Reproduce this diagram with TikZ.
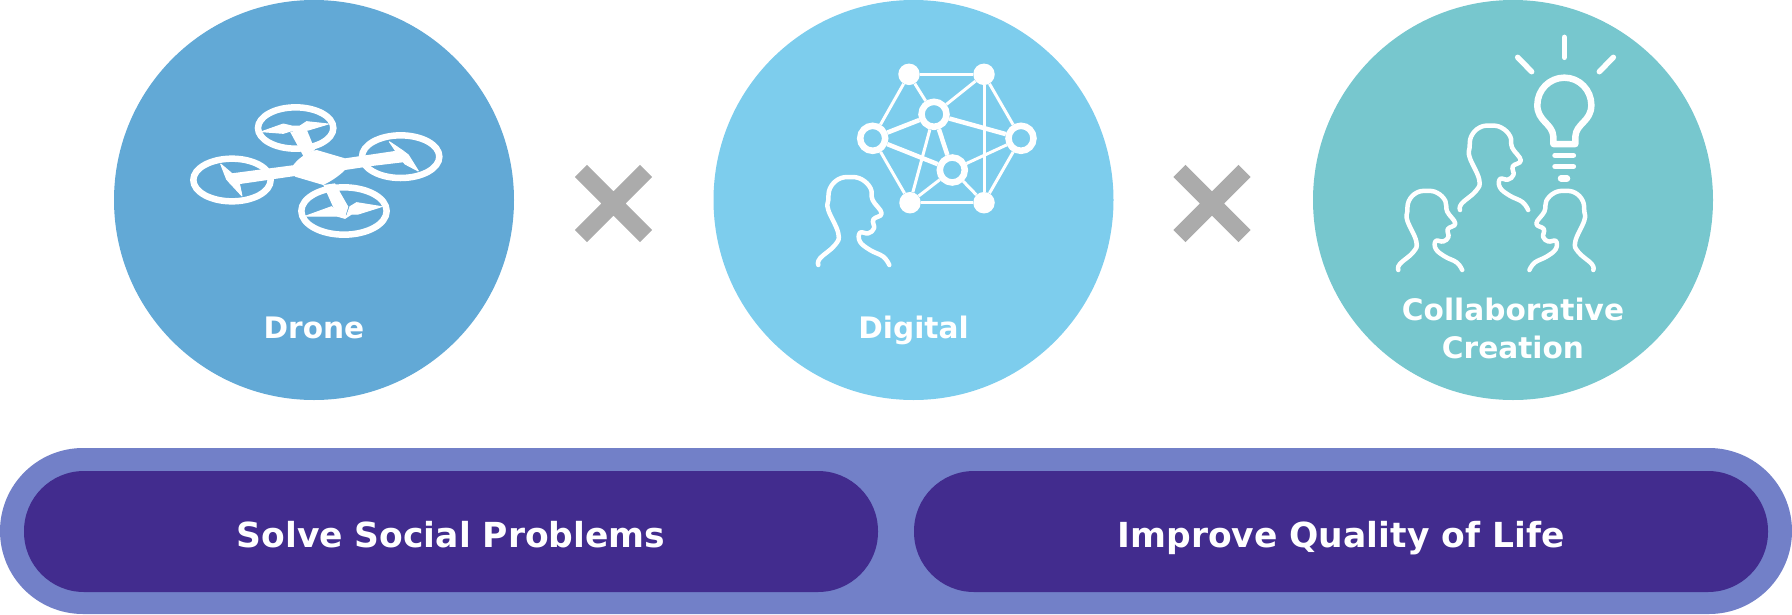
\documentclass[tikz,border=0pt]{standalone}
\usepackage{fontspec}
\setmainfont{DejaVu Sans}
\usepackage{xcolor}
\usetikzlibrary{calc}
\definecolor{dronecol}{RGB}{98,169,214}
\definecolor{digitalcol}{RGB}{125,205,237}
\definecolor{collabcol}{RGB}{119,199,206}
\definecolor{crosscol}{RGB}{171,171,171}
\definecolor{barouter}{RGB}{114,128,200}
\definecolor{barinner}{RGB}{66,44,142}
\tikzset{
    person/.pic={
        \draw[white, line width=4.5pt, line cap=round, line join=round] plot[smooth, tension=0.7] coordinates {
            (0,0) (1.7,-6.7) (16.7,-20) (20,-31.7) (10,-55) (10,-65) (11.7,-76.7) (20,-85.7) (31.7,-88)
            (43.3,-85.7) (52.3,-76.7) (54.3,-65) (63.3,-51.7) (55,-45.5) (55.7,-36.7) (50,-31.7) (41.7,-32.3)
            (41.7,-23.3) (51.7,-15) (65,-8.3) (71,0)};
    },
    timescross/.pic={
        \draw[crosscol, line width=17pt] (-32.6,-32.6) -- (32.6,32.6) (-32.6,32.6) -- (32.6,-32.6);
    }
}

\begin{document}
\begin{tikzpicture}[x=1pt, y=-1pt, node distance=599.5pt,
        disc/.style={circle, minimum size=400pt, inner sep=0pt},
        caption/.style={white, font=\fontsize{29.6}{38}\selectfont\bfseries, align=center},
        word/.style={caption, text height=22pt, text depth=0pt},
        bar/.style={text=white, fill=barinner, rounded corners=60pt, minimum width=854pt, minimum height=121pt, inner sep=0pt, text height=31pt, text depth=0pt, font=\fontsize{34.5}{40}\selectfont\bfseries},
        hub/.style={circle, fill=white, minimum size=21.5pt, inner sep=0pt},
        ring/.style={circle, draw=white, line width=6.5pt, minimum size=25pt, inner sep=0pt},
        link/.style={white, line width=3pt},
        thicklink/.style={white, line width=4.5pt},
        rotor/.style={white, line width=6.5pt},
        blade/.style={fill=white, draw=white, line width=1pt, line join=round},
        bulb/.style={white, line width=5.5pt, line cap=round, line join=round}
    ]
    \useasboundingbox (0,0) rectangle (1792,614);

    % discs
    \node[disc, fill=dronecol] (drone) at (314,200) {};
    \node[disc, fill=digitalcol, right of=drone] (digital) {};
    \node[disc, fill=collabcol, right of=digital] (collab) {};

    \node[word] (dronetxt) at ($(drone)+(0,127)$) {Drone};
    \node[word] (digitaltxt) at ($(digital)+(0,127)$) {Digital};
    \node[caption] (collabtxt) at ($(collab)+(0,128)$) {Collaborative\\Creation};

    \pic (crossa) at (613.5,203.5) {timescross};
    \pic (crossb) at (1212,203.5) {timescross};

    % bottom bar
    \node[fill=barouter, rounded corners=83pt, minimum width=1792pt, minimum height=166pt, inner sep=0pt] (outerbar) at (896,531) {};
    \node[bar] (solve) at (451,531.5) {Solve Social Problems};
    \node[bar] (improve) at (1341,531.5) {Improve Quality of Life};

    % drone
    \begin{scope}[shift={(160,90)}, scale=1/3]
        \draw[rotor] (407,114) ellipse [x radius=113, y radius=62];
        \draw[rotor] (722,200) ellipse [x radius=116, y radius=64];
        \draw[rotor] (216,270) ellipse [x radius=116, y radius=64];
        \draw[rotor] (552,363) ellipse [x radius=128, y radius=71];
        \fill[white] (400,225) .. controls (420,200) and (445,185) .. (470,180) -- (555,205) -- (555,240) .. controls (540,255) and (520,270) .. (490,285) -- (405,260) -- cycle;
        \fill[white] (405,225) -- (215,250) -- (200,265) -- (210,282) -- (240,282) -- (405,258) -- cycle;
        \fill[white] (555,205) -- (725,180) -- (745,200) -- (745,215) -- (635,228) -- (555,240) -- cycle;
        \fill[white] (390,125) -- (440,118) -- (465,180) -- (430,198) -- cycle;
        \fill[white] (490,285) -- (525,280) -- (565,350) -- (555,382) -- (530,375) -- cycle;
        \filldraw[blade] (305,125) -- (370,102) -- (395,108) -- (420,108) -- (440,95) -- (505,102) -- (445,120) -- (395,122) -- (370,130) -- cycle;
        \filldraw[blade] (688,155) -- (728,182) -- (745,195) -- (775,243) -- (735,222) -- (722,205) -- cycle;
        \filldraw[blade] (182,222) -- (215,250) -- (238,280) -- (246,318) -- (222,292) -- (200,268) -- cycle;
        \filldraw[blade] (438,378) -- (515,350) -- (535,372) -- (560,378) -- (570,350) -- (590,338) -- (665,350) -- (595,372) -- (575,372) -- (555,385) -- (530,378) -- (510,378) -- cycle;
    \end{scope}

    % network
    \begin{scope}[shift={(800,50)}]
        \node[hub] (topl) at (109,24.3) {};
        \node[hub] (topr) at (184,24.3) {};
        \node[hub] (botl) at (110,152.7) {};
        \node[hub] (botr) at (184,152.7) {};
        \node[ring] (left) at (72.7,88.3) {};
        \node[ring] (right) at (221,88.3) {};
        \node[ring] (upper) at (134,64.3) {};
        \node[ring] (lower) at (152.3,120) {};
    \end{scope}
    \draw[link] (topl) -- (topr);
    \draw[link] (botl) -- (botr);
    \draw[link] (topl) -- (left);
    \draw[link] (topl) -- (upper);
    \draw[link] (topr) -- (upper);
    \draw[link] (topr) -- (right);
    \draw[link] (topr) -- (botr);
    \draw[link] (botr) -- (right);
    \draw[link] (botl) -- (left);
    \draw[link] (botl) -- (upper);
    \draw[link] (botl) -- (lower);
    \draw[link] (botr) -- (lower);
    \draw[link] (lower) -- (right);
    \draw[thicklink] (left) -- (upper);
    \draw[thicklink] (left) -- (lower);
    \draw[thicklink] (upper) -- (right);
    \draw[thicklink] (upper) -- (lower);
    \pic (thinker) at (818.3,265) {person};

    % people and bulb
    \pic[scale=0.9] (persona) at (1398.3,270) {person};
    \pic[scale=0.96] (personb) at (1460,210) {person};
    \pic[xscale=-0.9, yscale=0.9] (personc) at (1593.3,270) {person};
    \begin{scope}[shift={(1380,20)}, scale=1/3]
        \draw[bulb, line width=6.5pt] (520,350) .. controls (518,310) and (472,305) .. (472,255) .. controls (472,210) and (508,173) .. (553,173) .. controls (598,173) and (634,210) .. (634,255) .. controls (634,305) and (588,310) .. (586,350) -- (586,372) -- (520,372) -- cycle;
        \draw[bulb] (525,406) -- (580,406);
        \draw[bulb] (525,440) -- (580,440);
        \draw[bulb, line width=6.5pt] (543,475) -- (561,475);
        \draw[bulb] (553,52) -- (553,112);
        \draw[bulb] (413,112) -- (455,155);
        \draw[bulb] (700,112) -- (658,155);
    \end{scope}
\end{tikzpicture}
\end{document}
